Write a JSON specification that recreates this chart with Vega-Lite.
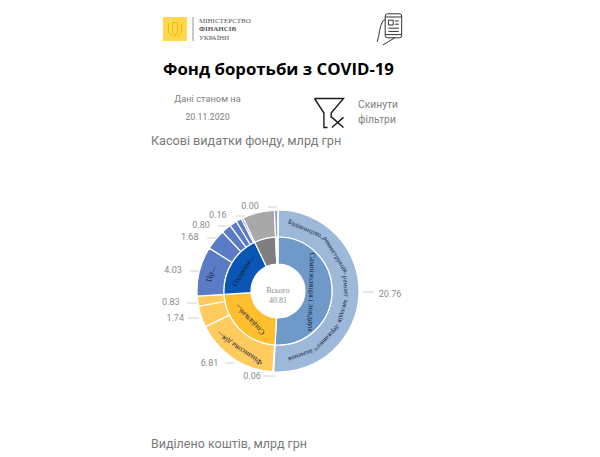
{
  "$schema": "https://vega.github.io/schema/vega-lite/v6.json",
  "width": 600,
  "height": 457,
  "autosize": {"type": "fit", "contains": "padding"},
  "padding": 0,
  "data": {"values": [{}]},
  "datasets": {
    "outer": [
      {"ord": 1, "part": "blue outer", "value": 20.76},
      {"ord": 2, "part": "yellow outer", "value": 0.06},
      {"ord": 3, "part": "yellow outer", "value": 6.81, "label": "Фінансова дія..."},
      {"ord": 4, "part": "yellow outer", "value": 1.74},
      {"ord": 5, "part": "yellow outer", "value": 0.83},
      {"ord": 6, "part": "royal outer", "value": 4.03, "label": "Пр..."},
      {"ord": 7, "part": "royal outer", "value": 1.68},
      {"ord": 8, "part": "royal outer", "value": 0.80},
      {"ord": 9, "part": "royal outer", "value": 0.60},
      {"ord": 10, "part": "royal outer", "value": 0.45},
      {"ord": 11, "part": "royal outer", "value": 0.16},
      {"ord": 12, "part": "grey outer", "value": 2.60},
      {"ord": 13, "part": "lavender", "value": 0.29},
      {"ord": 14, "part": "lavender", "value": 0.00}
    ],
    "inner": [
      {"ord": 1, "part": "blue inner", "value": 20.76, "label": "Самоізоляція і локдаун"},
      {"ord": 2, "part": "yellow inner", "value": 9.44, "label": "Соціальні..."},
      {"ord": 3, "part": "royal inner", "value": 7.72, "label": "Охорона..."},
      {"ord": 4, "part": "grey inner", "value": 2.60},
      {"ord": 5, "part": "white", "value": 0.29}
    ],
    "ringWords": [
      {"ord": 1, "word": "", "span": 0.9},
      {"ord": 2, "word": "Будівництво,", "span": 3.6},
      {"ord": 3, "word": "реконструкція,", "span": 4.2},
      {"ord": 4, "word": "ремонт", "span": 2.1},
      {"ord": 5, "word": "закладів", "span": 2.7},
      {"ord": 6, "word": "державного", "span": 3.4},
      {"ord": 7, "word": "значення", "span": 2.6}
    ]
  },
  "layer": [
    {
      "data": {"name": "outer"},
      "transform": [
        {"stack": "value", "groupby": [], "sort": [{"field": "ord"}], "as": ["v0", "v1"]},
        {"calculate": "(datum.v0 + datum.v1) / 2", "as": "mid"},
        {"calculate": "datum.mid / 40.81 * 360", "as": "rot"}
      ],
      "layer": [
        {
          "mark": {"type": "arc", "innerRadius": 54, "outerRadius": 81, "stroke": "white", "strokeWidth": 1.2},
          "encoding": {
            "x": {"datum": 278, "scale": {"domain": [0, 600], "nice": false, "zero": false}},
            "y": {"datum": 291, "scale": {"domain": [0, 457], "nice": false, "zero": false, "reverse": true}},
            "theta": {"field": "v0", "type": "quantitative", "scale": {"domain": [0, 40.81]}},
            "theta2": {"field": "v1"},
            "color": {
              "field": "part",
              "scale": {
                "domain": ["blue outer", "yellow outer", "royal outer", "grey outer", "lavender", "blue inner", "yellow inner", "royal inner", "grey inner", "white"],
                "range": ["#9DB8D8", "#FFCB5E", "#5B7BC6", "#A8A8A8", "#8E9FDC", "#6F99C9", "#FFBE2D", "#0A56B5", "#7F7F7F", "#FFFFFF"]
              }
            }
          }
        },
        {"transform": [{"filter": {"field": "value", "equal": 20.76}}], "mark": {"type": "text", "radius": 100, "dx": 12, "font": "Roboto", "fontSize": 9, "color": "#8C8C8C"}, "encoding": {"x": {"datum": 278}, "y": {"datum": 291}, "theta": {"field": "mid", "type": "quantitative"}, "text": {"field": "value", "format": ".2f"}}},
        {"transform": [{"filter": {"field": "value", "equal": 0.06}}], "mark": {"type": "text", "radius": 100, "dx": -20, "dy": -15, "font": "Roboto", "fontSize": 9, "color": "#8C8C8C"}, "encoding": {"x": {"datum": 278}, "y": {"datum": 291}, "theta": {"field": "mid", "type": "quantitative"}, "text": {"field": "value", "format": ".2f"}}},
        {"transform": [{"filter": {"field": "value", "equal": 6.81}}], "mark": {"type": "text", "radius": 100, "dx": -13, "dy": -11, "font": "Roboto", "fontSize": 9, "color": "#8C8C8C"}, "encoding": {"x": {"datum": 278}, "y": {"datum": 291}, "theta": {"field": "mid", "type": "quantitative"}, "text": {"field": "value", "format": ".2f"}}},
        {"transform": [{"filter": {"field": "value", "equal": 1.74}}], "mark": {"type": "text", "radius": 100, "dx": -8, "dy": -5, "font": "Roboto", "fontSize": 9, "color": "#8C8C8C"}, "encoding": {"x": {"datum": 278}, "y": {"datum": 291}, "theta": {"field": "mid", "type": "quantitative"}, "text": {"field": "value", "format": ".2f"}}},
        {"transform": [{"filter": {"field": "value", "equal": 0.83}}], "mark": {"type": "text", "radius": 100, "dx": -8, "dy": -2, "font": "Roboto", "fontSize": 9, "color": "#8C8C8C"}, "encoding": {"x": {"datum": 278}, "y": {"datum": 291}, "theta": {"field": "mid", "type": "quantitative"}, "text": {"field": "value", "format": ".2f"}}},
        {"transform": [{"filter": {"field": "value", "equal": 4.03}}], "mark": {"type": "text", "radius": 100, "dx": -8, "dy": 3, "font": "Roboto", "fontSize": 9, "color": "#8C8C8C"}, "encoding": {"x": {"datum": 278}, "y": {"datum": 291}, "theta": {"field": "mid", "type": "quantitative"}, "text": {"field": "value", "format": ".2f"}}},
        {"transform": [{"filter": {"field": "value", "equal": 1.68}}], "mark": {"type": "text", "radius": 100, "dx": -11, "dy": 9, "font": "Roboto", "fontSize": 9, "color": "#8C8C8C"}, "encoding": {"x": {"datum": 278}, "y": {"datum": 291}, "theta": {"field": "mid", "type": "quantitative"}, "text": {"field": "value", "format": ".2f"}}},
        {"transform": [{"filter": {"field": "value", "equal": 0.80}}], "mark": {"type": "text", "radius": 100, "dx": -13, "dy": 11, "font": "Roboto", "fontSize": 9, "color": "#8C8C8C"}, "encoding": {"x": {"datum": 278}, "y": {"datum": 291}, "theta": {"field": "mid", "type": "quantitative"}, "text": {"field": "value", "format": ".2f"}}},
        {"transform": [{"filter": {"field": "value", "equal": 0.16}}], "mark": {"type": "text", "radius": 100, "dx": -16, "dy": 14, "font": "Roboto", "fontSize": 9, "color": "#8C8C8C"}, "encoding": {"x": {"datum": 278}, "y": {"datum": 291}, "theta": {"field": "mid", "type": "quantitative"}, "text": {"field": "value", "format": ".2f"}}},
        {"transform": [{"filter": {"field": "value", "equal": 0}}], "mark": {"type": "text", "radius": 100, "dx": -28, "dy": 15, "font": "Roboto", "fontSize": 9, "color": "#8C8C8C"}, "encoding": {"x": {"datum": 278}, "y": {"datum": 291}, "theta": {"field": "mid", "type": "quantitative"}, "text": {"field": "value", "format": ".2f"}}},
        {"transform": [{"filter": "isValid(datum.label)"}], "mark": {"type": "text", "radius": 69, "font": "Liberation Serif", "fontSize": 8, "color": "#14213D"}, "encoding": {"x": {"datum": 278}, "y": {"datum": 291}, "theta": {"field": "mid", "type": "quantitative"}, "angle": {"field": "rot", "type": "quantitative", "scale": null}, "text": {"field": "label"}}}
      ]
    },
    {
      "data": {"name": "inner"},
      "transform": [
        {"stack": "value", "groupby": [], "sort": [{"field": "ord"}], "as": ["v0", "v1"]},
        {"calculate": "(datum.v0 + datum.v1) / 2", "as": "mid"},
        {"calculate": "datum.mid / 40.81 * 360", "as": "rot"}
      ],
      "layer": [
        {
          "mark": {"type": "arc", "innerRadius": 27, "outerRadius": 54, "stroke": "white", "strokeWidth": 1.2},
          "encoding": {
            "x": {"datum": 278},
            "y": {"datum": 291},
            "theta": {"field": "v0", "type": "quantitative"},
            "theta2": {"field": "v1"},
            "color": {"field": "part"}
          }
        },
        {"transform": [{"filter": {"field": "ord", "equal": 1}}], "mark": {"type": "text", "radius": 33, "font": "Liberation Serif", "fontSize": 8, "color": "#14213D"}, "encoding": {"x": {"datum": 278}, "y": {"datum": 291}, "theta": {"field": "mid", "type": "quantitative"}, "angle": {"field": "rot", "type": "quantitative", "scale": null}, "text": {"field": "label"}}},
        {"transform": [{"filter": {"field": "ord", "oneOf": [2, 3]}}], "mark": {"type": "text", "radius": 40, "font": "Liberation Serif", "fontSize": 8, "color": "#14213D"}, "encoding": {"x": {"datum": 278}, "y": {"datum": 291}, "theta": {"field": "mid", "type": "quantitative"}, "angle": {"field": "rot", "type": "quantitative", "scale": null}, "text": {"field": "label"}}}
      ]
    },
    {
      "data": {"name": "ringWords"},
      "transform": [
        {"stack": "span", "groupby": [], "sort": [{"field": "ord"}], "as": ["v0", "v1"]},
        {"calculate": "(datum.v0 + datum.v1) / 2", "as": "mid"},
        {"calculate": "datum.mid / 40.81 * 360", "as": "rot"}
      ],
      "mark": {"type": "text", "radius": 68, "font": "Liberation Serif", "fontSize": 6.8, "color": "#14213D"},
      "encoding": {"x": {"datum": 278}, "y": {"datum": 291}, "theta": {"field": "mid", "type": "quantitative"}, "angle": {"field": "rot", "type": "quantitative", "scale": null}, "text": {"field": "word"}}
    },
    {"mark": {"type": "text", "text": ["Всього", "40.81"], "font": "Liberation Serif", "fontSize": 8, "lineHeight": 10, "color": "#8C8C8C"}, "encoding": {"x": {"datum": 278}, "y": {"datum": 291}}},
    {"mark": {"type": "rule", "color": "#D0D0D0"}, "encoding": {"x": {"datum": 363}, "x2": {"datum": 374}, "y": {"datum": 292}}},
    {"mark": {"type": "rule", "color": "#D0D0D0"}, "encoding": {"x": {"datum": 263}, "x2": {"datum": 275}, "y": {"datum": 376}}},
    {"mark": {"type": "rule", "color": "#D0D0D0"}, "encoding": {"x": {"datum": 225}, "x2": {"datum": 234}, "y": {"datum": 363}}},
    {"mark": {"type": "rule", "color": "#D0D0D0"}, "encoding": {"x": {"datum": 188}, "x2": {"datum": 199}, "y": {"datum": 318}}},
    {"mark": {"type": "rule", "color": "#D0D0D0"}, "encoding": {"x": {"datum": 187}, "x2": {"datum": 197}, "y": {"datum": 303}}},
    {"mark": {"type": "rule", "color": "#D0D0D0"}, "encoding": {"x": {"datum": 190}, "x2": {"datum": 199}, "y": {"datum": 271}}},
    {"mark": {"type": "rule", "color": "#D0D0D0"}, "encoding": {"x": {"datum": 207}, "x2": {"datum": 216}, "y": {"datum": 238}}},
    {"mark": {"type": "rule", "color": "#D0D0D0"}, "encoding": {"x": {"datum": 218}, "x2": {"datum": 227}, "y": {"datum": 226}}},
    {"mark": {"type": "rule", "color": "#D0D0D0"}, "encoding": {"x": {"datum": 236}, "x2": {"datum": 245}, "y": {"datum": 216}}},
    {"mark": {"type": "rule", "color": "#D0D0D0"}, "encoding": {"x": {"datum": 268}, "x2": {"datum": 277}, "y": {"datum": 207}}},
    {"mark": {"type": "square", "size": 576, "color": "#FFD84F", "opacity": 1}, "encoding": {"x": {"datum": 175}, "y": {"datum": 29}}},
    {"mark": {"type": "point", "shape": "M-0.2,-0.55L0.2,-0.55L0.2,0.25L0,0.6L-0.2,0.25ZM-0.55,-0.45L-0.55,0.25L-0.2,0.6M0.55,-0.45L0.55,0.25L0.2,0.6", "size": 576, "filled": false, "stroke": "#F2B705", "strokeWidth": 1, "opacity": 1}, "encoding": {"x": {"datum": 175}, "y": {"datum": 29}}},
    {"mark": {"type": "rule", "color": "#666666", "strokeWidth": 0.7}, "encoding": {"x": {"datum": 193}, "y": {"datum": 17}, "y2": {"datum": 41}}},
    {"mark": {"type": "text", "text": "МІНІСТЕРСТВО", "align": "left", "font": "Liberation Serif", "fontSize": 7, "color": "#555555"}, "encoding": {"x": {"datum": 199}, "y": {"datum": 20.5}}},
    {"mark": {"type": "text", "text": "ФІНАНСІВ", "align": "left", "font": "Liberation Serif", "fontSize": 7, "fontWeight": "bold", "color": "#555555"}, "encoding": {"x": {"datum": 199}, "y": {"datum": 29}}},
    {"mark": {"type": "text", "text": "УКРАЇНИ", "align": "left", "font": "Liberation Serif", "fontSize": 7, "color": "#555555"}, "encoding": {"x": {"datum": 199}, "y": {"datum": 37.5}}},
    {"mark": {"type": "point", "shape": "M-0.3,-0.8Q-0.3,-0.95,-0.15,-0.95L0.58,-0.95Q0.73,-0.95,0.73,-0.8L0.73,0.4Q0.73,0.55,0.58,0.55L-0.15,0.55Q-0.3,0.55,-0.3,0.4ZM-0.3,-0.75L0.73,-0.75M-0.3,0.35L0.73,0.35M-0.1,-0.55L0.2,-0.55L0.2,-0.25L-0.1,-0.25ZM0.3,-0.5L0.55,-0.5M0.3,-0.3L0.55,-0.3M-0.1,-0.05L0.55,-0.05M-0.1,0.15L0.55,0.15M-0.3,-0.6Q-0.55,-0.5,-0.65,0.1Q-0.7,0.5,-0.8,0.8M-0.45,1Q-0.2,0.85,0.3,0.55", "size": 1024, "filled": false, "stroke": "#333333", "strokeWidth": 1, "opacity": 1}, "encoding": {"x": {"datum": 390}, "y": {"datum": 29}}},
    {"mark": {"type": "text", "text": "Фонд боротьби з COVID-19", "font": "Open Sans", "fontSize": 16.8, "fontWeight": "bold", "color": "#000000"}, "encoding": {"x": {"datum": 278.5}, "y": {"datum": 70}}},
    {"mark": {"type": "text", "text": "Дані станом на", "font": "Roboto", "fontSize": 9.3, "color": "#808080"}, "encoding": {"x": {"datum": 207.5}, "y": {"datum": 99}}},
    {"mark": {"type": "text", "text": "20.11.2020", "font": "Roboto", "fontSize": 8.8, "color": "#808080"}, "encoding": {"x": {"datum": 207.5}, "y": {"datum": 117}}},
    {"mark": {"type": "point", "shape": "M-1,-1L1,-1L0.15,0L0.15,0.35M-1,-1L-0.35,0L-0.35,1L-0.1,1M0.2,0.3L1,1M1,0.3L0.2,1", "size": 841, "filled": false, "stroke": "#1A1A1A", "strokeWidth": 1.4, "opacity": 1}, "encoding": {"x": {"datum": 329}, "y": {"datum": 113}}},
    {"mark": {"type": "text", "text": "Скинути", "align": "left", "font": "Roboto", "fontSize": 10.3, "color": "#808080"}, "encoding": {"x": {"datum": 358}, "y": {"datum": 105}}},
    {"mark": {"type": "text", "text": "фільтри", "align": "left", "font": "Roboto", "fontSize": 10.3, "color": "#808080"}, "encoding": {"x": {"datum": 358}, "y": {"datum": 119.5}}},
    {"mark": {"type": "text", "text": "Касові видатки фонду, млрд грн", "align": "left", "font": "Roboto", "fontSize": 12.6, "color": "#7A7A7A"}, "encoding": {"x": {"datum": 151}, "y": {"datum": 141}}},
    {"mark": {"type": "text", "text": "Виділено коштів, млрд грн", "align": "left", "font": "Roboto", "fontSize": 12.5, "color": "#7A7A7A"}, "encoding": {"x": {"datum": 151}, "y": {"datum": 444}}}
  ],
  "config": {
    "view": {"stroke": null},
    "axis": {"disable": true},
    "legend": {"disable": true}
  }
}
